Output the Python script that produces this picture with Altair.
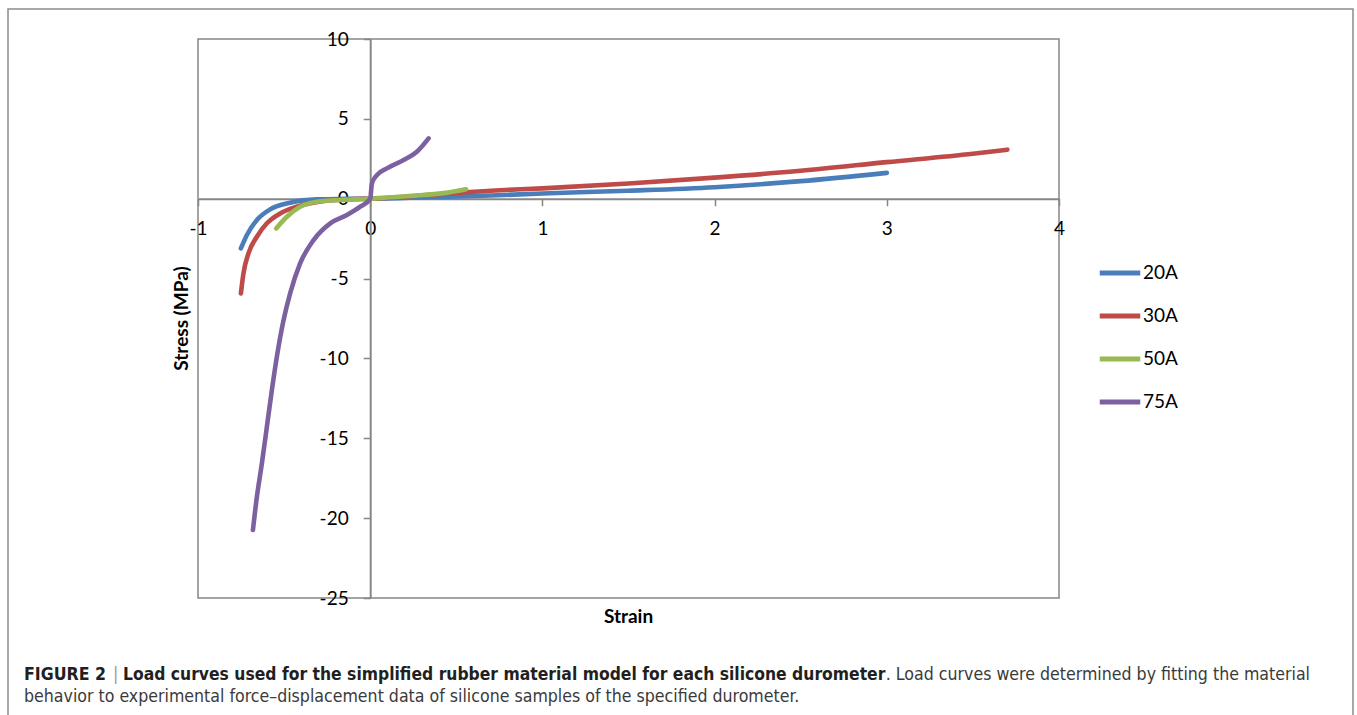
import altair as alt
import pandas as pd

# ---- data ----
series_names = ["20A", "30A", "50A", "75A"]
series_colors = ["#4A7EBB", "#BE4B48", "#98B954", "#7D60A0"]

strain_20A = [-0.751, -0.716, -0.658, -0.58, -0.465, -0.31, -0.15, 0.0, 0.35, 0.7, 1.0, 1.5, 2.0, 2.5, 3.0]
stress_20A = [-3.11, -2.27, -1.33, -0.66, -0.25, -0.04, -0.01, 0.0, 0.1, 0.2, 0.33, 0.5, 0.72, 1.1, 1.62]

strain_30A = [-0.751, -0.736, -0.707, -0.658, -0.6, -0.523, -0.426, -0.27, -0.12, 0.0, 0.35, 0.7, 1.0, 1.5, 2.0, 2.5, 3.0, 3.5, 3.7]
stress_30A = [-5.93, -4.67, -3.42, -2.38, -1.54, -0.92, -0.5, -0.14, -0.03, 0.0, 0.25, 0.5, 0.65, 0.95, 1.32, 1.75, 2.29, 2.82, 3.07]

strain_50A = [-0.546, -0.484, -0.407, -0.31, -0.174, 0.0, 0.116, 0.31, 0.45, 0.557]
stress_50A = [-1.86, -1.13, -0.5, -0.19, -0.08, 0.0, 0.09, 0.23, 0.38, 0.59]

strain_75A = [-0.681, -0.658, -0.629, -0.6, -0.571, -0.542, -0.503, -0.465, -0.407, -0.329, -0.232, -0.135, -0.058, 0.0,
              0.01, 0.039, 0.097, 0.194, 0.271, 0.339]
stress_75A = [-20.74, -18.66, -16.57, -14.28, -11.98, -9.89, -7.6, -5.93, -4.05, -2.59, -1.54, -1.02, -0.5, 0.0,
              0.96, 1.48, 1.9, 2.42, 2.94, 3.78]

x_ticks = [-1, 0, 1, 2, 3, 4]
y_ticks = [10, 5, 0, -5, -10, -15, -20, -25]

x_title = "Strain"
y_title = "Stress (MPa)"
caption_fig = "FIGURE 2"
caption_bold = "Load curves used for the simplified rubber material model for each silicone durometer"
caption_rest1 = ". Load curves were determined by fitting the material"
caption_line2 = "behavior to experimental force\u2013displacement data of silicone samples of the specified durometer."

# ---- build table ----
rows = []
for name, xs, ys in [("20A", strain_20A, stress_20A), ("30A", strain_30A, stress_30A),
                     ("50A", strain_50A, stress_50A), ("75A", strain_75A, stress_75A)]:
    for i, (a, b) in enumerate(zip(xs, ys)):
        rows.append({"series": name, "strain": a, "stress": b, "order": i})
df = pd.DataFrame(rows)

W, H = 861, 559
XMIN, XMAX, YMIN, YMAX = -1, 4, -25, 10
x_off = -W * (0 - XMIN) / (XMAX - XMIN)
y_off = -H * (0 - YMIN) / (YMAX - YMIN)

AX = "#868686"
FONT = "Lato"
CAP_FONT = "DejaVu Sans Condensed, sans-serif"

lines = alt.Chart(df).mark_line(strokeWidth=4.6, strokeCap="round", strokeJoin="round", interpolate="monotone").encode(
    x=alt.X("strain:Q", scale=alt.Scale(domain=[XMIN, XMAX], nice=False, zero=False),
            axis=alt.Axis(values=x_ticks, title=None, offset=y_off, grid=False, tickSize=7,
                          labelPadding=14, labelFontSize=19, labelFont=FONT, labelColor="#000000",
                          domainColor=AX, tickColor=AX, domainWidth=2, tickWidth=1.5,
                          labelFlush=False, labelOverlap=False, labelExpr="toString(datum.value)")),
    y=alt.Y("stress:Q", scale=alt.Scale(domain=[YMIN, YMAX], nice=False, zero=False),
            axis=alt.Axis(values=y_ticks, title=None, offset=x_off, grid=False, tickSize=7,
                          labelPadding=15, labelFontSize=19, labelFont=FONT, labelColor="#000000",
                          domainColor=AX, tickColor=AX, domainWidth=2, tickWidth=1.5,
                          labelFlush=False, labelOverlap=False, labelExpr="toString(datum.value)")),
    color=alt.Color("series:N", scale=alt.Scale(domain=series_names, range=series_colors),
                    legend=alt.Legend(title=None, orient="none", legendX=899, legendY=211,
                                      symbolType="stroke", symbolSize=1640, symbolStrokeWidth=5,
                                      labelFontSize=19, labelFont=FONT, labelColor="#000000",
                                      labelOffset=0, rowPadding=10, padding=0)),
    order="order:Q",
    detail="series:N",
)

one = pd.DataFrame({"a": [0]})

frame = alt.Chart(one).mark_rect(fill=None, stroke="#8C8C8C", strokeWidth=1.5).encode(
    x=alt.value(8 - 198), x2=alt.value(1353 - 198), y=alt.value(9 - 39), y2=alt.value(740 - 39)
)

ytitle = alt.Chart(one).mark_text(text=y_title, angle=270, font=FONT, fontSize=19, fontWeight="bold",
                                  color="#000000", align="center", baseline="middle").encode(
    x=alt.value(182 - 198), y=alt.value(318.5 - 39))
xtitle = alt.Chart(one).mark_text(text=x_title, font=FONT, fontSize=19, fontWeight="bold",
                                  color="#000000", align="center", baseline="middle").encode(
    x=alt.value(628.5 - 198), y=alt.value(617 - 39))

cap_a = alt.Chart(one).mark_text(text=caption_fig, font=CAP_FONT, fontSize=17.6, fontWeight="bold",
                                 color="#231F20", align="left", baseline="alphabetic").encode(
    x=alt.value(24 - 198), y=alt.value(680 - 39))
cap_bar = alt.Chart(one).mark_text(text="|", font=CAP_FONT, fontSize=17.6,
                                   color="#9A9A9A", align="left", baseline="alphabetic").encode(
    x=alt.value(113 - 198), y=alt.value(680 - 39))
cap_b = alt.Chart(one).mark_text(text=caption_bold, font=CAP_FONT, fontSize=17.35, fontWeight="bold",
                                 color="#231F20", align="left", baseline="alphabetic").encode(
    x=alt.value(123 - 198), y=alt.value(680 - 39))
cap_c = alt.Chart(one).mark_text(text=caption_rest1, font=CAP_FONT, fontSize=17.6,
                                 color="#3A3A3A", align="right", baseline="alphabetic").encode(
    x=alt.value(1310 - 198), y=alt.value(680 - 39))
cap_d = alt.Chart(one).mark_text(text=caption_line2, font=CAP_FONT, fontSize=17.6,
                                 color="#3A3A3A", align="left", baseline="alphabetic").encode(
    x=alt.value(24 - 198), y=alt.value(702 - 39))

chart = alt.layer(frame, lines, ytitle, xtitle, cap_a, cap_bar, cap_b, cap_c, cap_d).properties(
    width=W, height=H,
    autosize=alt.AutoSizeParams(type="none"),
    padding={"left": 198, "top": 39, "right": 1357 - 198 - W, "bottom": 715 - 39 - H},
    background="#FFFFFF",
).configure_view(stroke=AX, strokeWidth=1.5)

chart.save("out.html", embed_options={"renderer": "svg", "actions": False})
